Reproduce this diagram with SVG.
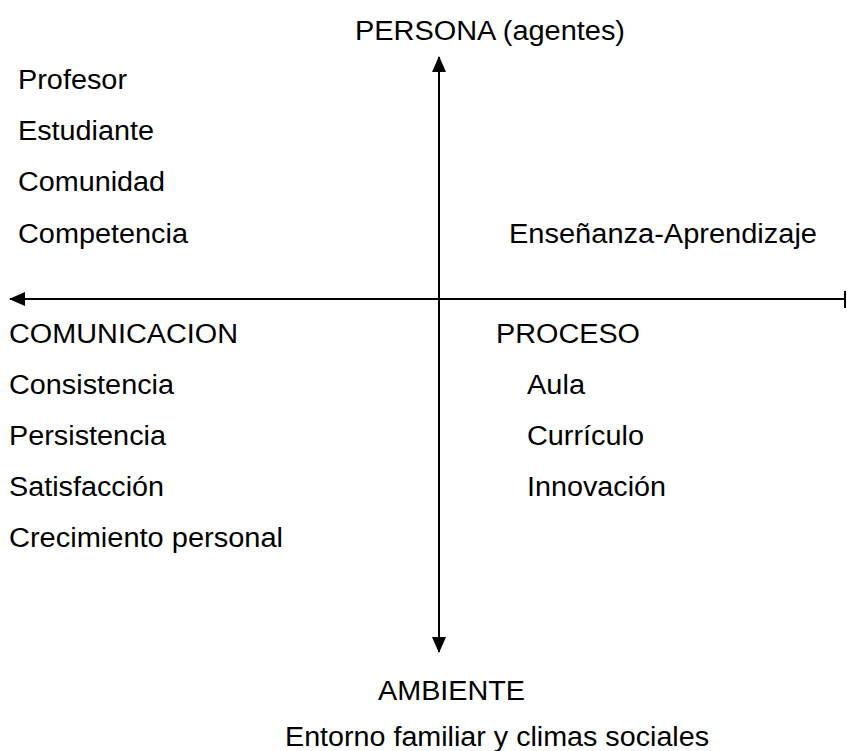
<svg xmlns="http://www.w3.org/2000/svg" width="847" height="751" viewBox="0 0 847 751">
<style>
text{font-family:"Liberation Sans",Arial,sans-serif;font-size:27px;fill:#000}
.ax{stroke:#000;stroke-width:2;fill:none}
</style>
<defs>
<marker id="ah" markerWidth="16" markerHeight="14" refX="15" refY="7" orient="auto" markerUnits="userSpaceOnUse" viewBox="0 0 16 14">
<path d="M0,0 L16,7 L0,14 z" fill="#000"/>
</marker>
</defs>
<rect width="847" height="751" fill="#fff"/>
<g id="connectors">
<line class="ax" x1="439" y1="299" x2="439" y2="57" marker-end="url(#ah)"/>
<line class="ax" x1="439" y1="299" x2="439" y2="652" marker-end="url(#ah)"/>
<line class="ax" x1="845" y1="299" x2="10" y2="299" marker-end="url(#ah)"/>
<line class="ax" x1="845" y1="291" x2="845" y2="308"/>
</g>
<g id="persona"><text x="355" y="40" textLength="270" lengthAdjust="spacingAndGlyphs">PERSONA (agentes)</text></g>
<g id="agentes">
<text x="18" y="89" textLength="109" lengthAdjust="spacingAndGlyphs">Profesor</text>
<text x="18" y="140" textLength="136" lengthAdjust="spacingAndGlyphs">Estudiante</text>
<text x="18" y="191" textLength="147" lengthAdjust="spacingAndGlyphs">Comunidad</text>
<text x="18" y="243" textLength="170" lengthAdjust="spacingAndGlyphs">Competencia</text>
</g>
<g id="ensenanza"><text x="509" y="243" textLength="308" lengthAdjust="spacingAndGlyphs">Enseñanza-Aprendizaje</text></g>
<g id="comunicacion">
<text x="9" y="343" textLength="229" lengthAdjust="spacingAndGlyphs">COMUNICACION</text>
<text x="9" y="394" textLength="165" lengthAdjust="spacingAndGlyphs">Consistencia</text>
<text x="9" y="445" textLength="157" lengthAdjust="spacingAndGlyphs">Persistencia</text>
<text x="9" y="496" textLength="155" lengthAdjust="spacingAndGlyphs">Satisfacción</text>
<text x="9" y="547" textLength="274" lengthAdjust="spacingAndGlyphs">Crecimiento personal</text>
</g>
<g id="proceso">
<text x="496" y="343" textLength="144" lengthAdjust="spacingAndGlyphs">PROCESO</text>
<text x="527" y="394" textLength="58" lengthAdjust="spacingAndGlyphs">Aula</text>
<text x="527" y="445" textLength="117" lengthAdjust="spacingAndGlyphs">Currículo</text>
<text x="527" y="496" textLength="139" lengthAdjust="spacingAndGlyphs">Innovación</text>
</g>
<g id="ambiente">
<text x="378" y="700" textLength="147" lengthAdjust="spacingAndGlyphs">AMBIENTE</text>
<text x="285" y="746" textLength="424" lengthAdjust="spacingAndGlyphs">Entorno familiar y climas sociales</text>
</g>
</svg>
